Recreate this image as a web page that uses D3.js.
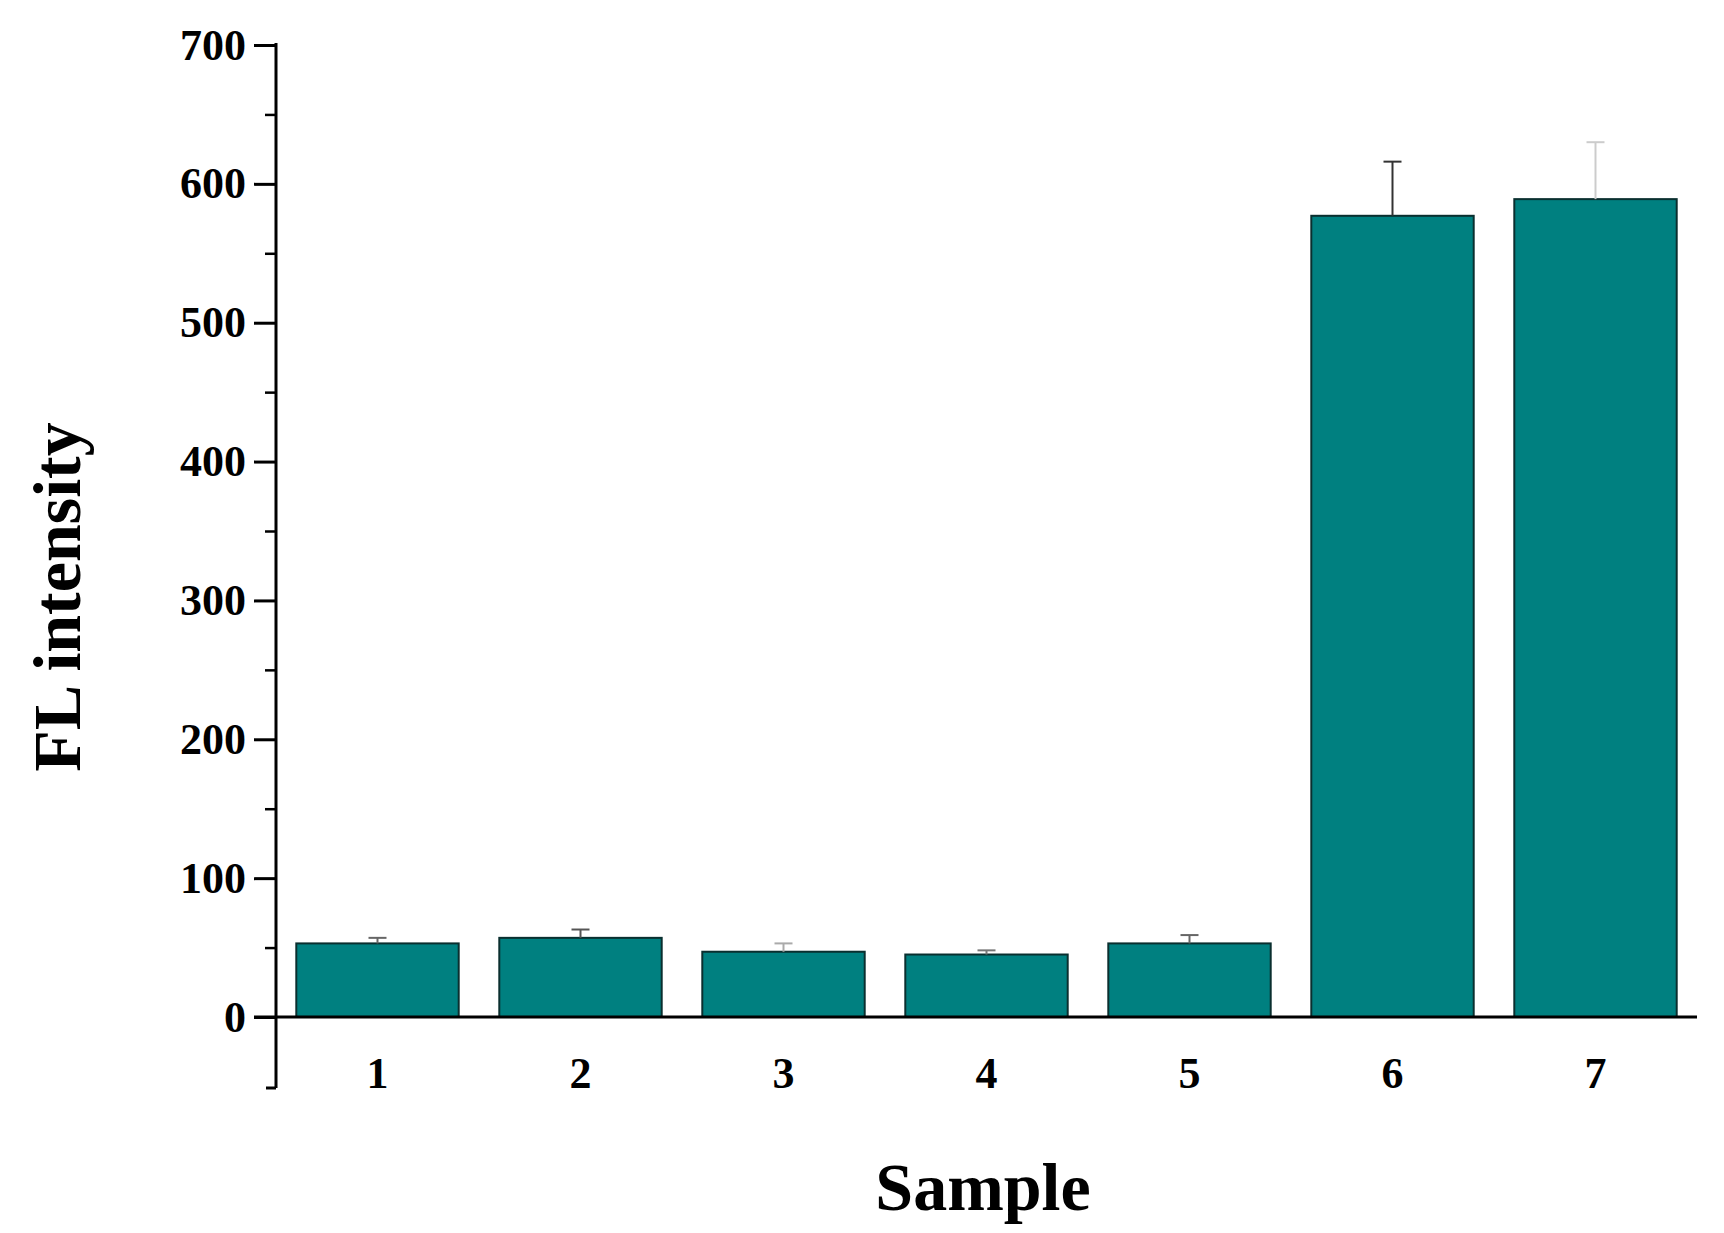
<!DOCTYPE html>
<html>
<head>
<meta charset="UTF-8">
<script src="https://d3js.org/d3.v7.min.js"></script>
<style>
  body { margin: 0; background: white; }
  text { font-family: "Liberation Serif", "Times New Roman", serif; font-weight: bold; }
</style>
</head>
<body>
<script>
  const samples = ["1", "2", "3", "4", "5", "6", "7"];
  const intensity = [53, 57, 47, 45, 53, 577, 589];
  const errors = [4, 6, 6, 3, 6, 39, 41];
  const errColors = ["#666", "#555", "#aaa", "#777", "#666", "#333", "#ccc"];
  const yTicks = [0, 100, 200, 300, 400, 500, 600, 700];

  const width = 1724, height = 1233;
  const svg = d3.select("body").append("svg").attr("width", width).attr("height", height);

  const x = d3.scaleBand().domain(samples).range([276, 1697]).paddingInner(0.2).paddingOuter(0.1);
  const y = d3.scaleLinear().domain([0, 700]).range([1017, 45]);

  // bars
  svg.selectAll("rect.bar").data(samples).enter().append("rect")
    .attr("x", d => x(d))
    .attr("width", x.bandwidth())
    .attr("y", (d, i) => y(intensity[i]))
    .attr("height", (d, i) => y(0) - y(intensity[i]))
    .attr("fill", "#008080")
    .attr("stroke", "#0a2f2f")
    .attr("stroke-width", 2);

  // error bars (upper only)
  const eb = svg.selectAll("g.err").data(samples).enter().append("g")
    .attr("stroke", (d, i) => errColors[i]).attr("stroke-width", 2);
  eb.append("line")
    .attr("x1", d => x(d) + x.bandwidth() / 2).attr("x2", d => x(d) + x.bandwidth() / 2)
    .attr("y1", (d, i) => y(intensity[i])).attr("y2", (d, i) => y(intensity[i] + errors[i]));
  eb.append("line")
    .attr("x1", d => x(d) + x.bandwidth() / 2 - 9).attr("x2", d => x(d) + x.bandwidth() / 2 + 9)
    .attr("y1", (d, i) => y(intensity[i] + errors[i])).attr("y2", (d, i) => y(intensity[i] + errors[i]));

  // y axis
  const yAxis = svg.append("g").attr("transform", "translate(276,0)")
    .call(d3.axisLeft(y).tickValues(yTicks).tickSize(22).tickPadding(8));
  yAxis.select(".domain").remove();
  yAxis.selectAll("text").attr("font-size", 44).attr("fill", "#000");
  yAxis.selectAll("line").attr("stroke-width", 3);
  svg.append("g").attr("transform", "translate(276,0)")
    .call(d3.axisLeft(y).tickValues(d3.range(50, 700, 100)).tickSize(11).tickFormat(""))
    .call(g => g.select(".domain").remove())
    .selectAll("line").attr("stroke-width", 2.5);
  svg.append("line").attr("x1", 276).attr("x2", 276).attr("y1", 43).attr("y2", 1088)
    .attr("stroke", "#000").attr("stroke-width", 3);
  svg.append("line").attr("x1", 266).attr("x2", 276).attr("y1", 1088).attr("y2", 1088)
    .attr("stroke", "#000").attr("stroke-width", 3);

  // x axis
  svg.append("line").attr("x1", 254).attr("x2", 1697).attr("y1", y(0)).attr("y2", y(0))
    .attr("stroke", "#000").attr("stroke-width", 3);
  svg.selectAll("text.xl").data(samples).enter().append("text")
    .attr("x", d => x(d) + x.bandwidth() / 2).attr("y", 1088)
    .attr("text-anchor", "middle").attr("font-size", 44).text(d => d);

  svg.append("text").attr("x", 983).attr("y", 1210).attr("text-anchor", "middle")
    .attr("font-size", 68).text("Sample");
  svg.append("text").attr("transform", "translate(80,597) rotate(-90)").attr("text-anchor", "middle")
    .attr("font-size", 68).text("FL intensity");
</script>
</body>
</html>
